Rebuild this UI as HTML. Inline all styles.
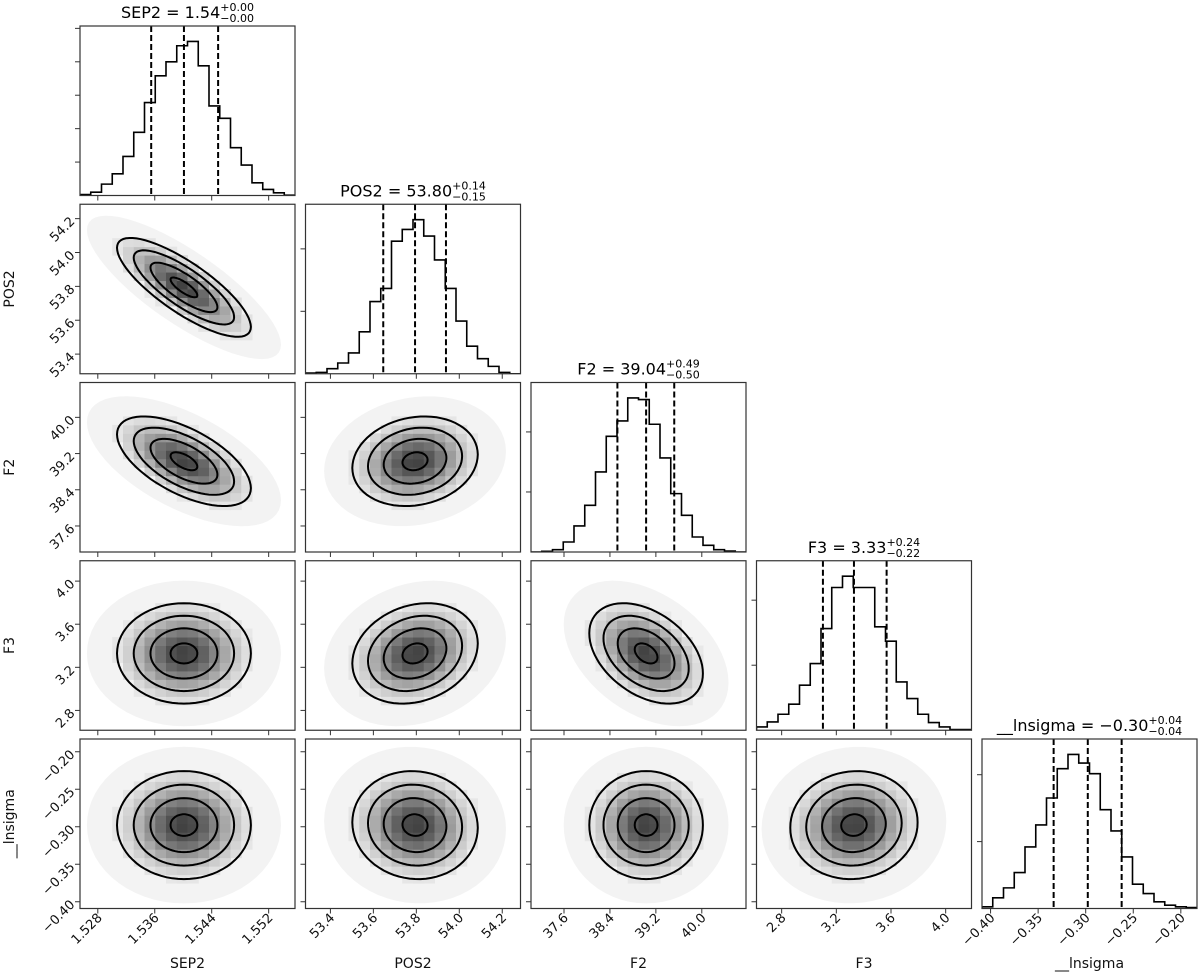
<!DOCTYPE html>
<html><head><meta charset="utf-8">
<style>
html,body{margin:0;padding:0;background:#fff;}
svg{display:block;font-family:"DejaVu Sans","Liberation Sans",sans-serif;}
</style></head>
<body>
<svg id="c" width="1200" height="976" viewBox="0 0 1200 976" xmlns="http://www.w3.org/2000/svg"></svg>
<script>
const names=["SEP2","POS2","F2","F3","__lnsigma"];
const lo=[1.5255,53.284,37.025,2.616,-0.409];
const hi=[1.5557,54.285,40.77,4.189,-0.183];
const means=[1.5401,53.794,39.03,3.329,-0.2978];
const sigmas=[0.0047,0.146,0.495,0.233,0.036];
const q16=[1.5355,53.646,38.53,3.102,-0.3337];
const q50=[1.5401,53.794,39.03,3.329,-0.2978];
const q84=[1.5449,53.938,39.52,3.568,-0.2622];
const titleVal=["1.54","53.80","39.04","3.33","\u22120.30"];
const titlePlus=["+0.00","+0.14","+0.49","+0.24","+0.04"];
const titleMinus=["\u22120.00","\u22120.15","\u22120.50","\u22120.22","\u22120.04"];
const histSEP2=[3,10,34,65,117,189,278,358,400,448,461,388,268,231,143,91,38,18,8,1];
const histPOS2=[2,4,15,32,62,125,215,254,395,430,459,410,339,254,157,82,45,22,4,0];
const histF2=[0,2,7,30,78,140,240,347,393,462,457,383,282,175,110,45,20,7,3,0];
const histF3=[10,25,48,78,135,200,305,428,462,428,428,310,267,145,95,48,23,10,2,2];
const histLn=[5,32,62,108,185,251,332,420,463,437,405,297,233,155,73,45,20,10,5,3];
const hists=[histSEP2,histPOS2,histF2,histF3,histLn];
const histTickStep=[100,186,180,195,201];
const ticksSEP2=[1.528,1.536,1.544,1.552];
const ticksPOS2=[53.4,53.6,53.8,54.0,54.2];
const ticksF2=[37.6,38.4,39.2,40.0];
const ticksF3=[2.8,3.2,3.6,4.0];
const ticksLn=[-0.40,-0.35,-0.30,-0.25,-0.20];
const tickVals=[ticksSEP2,ticksPOS2,ticksF2,ticksF3,ticksLn];
const tickLabels=[["1.528","1.536","1.544","1.552"],["53.4","53.6","53.8","54.0","54.2"],["37.6","38.4","39.2","40.0"],["2.8","3.2","3.6","4.0"],["\u22120.40","\u22120.35","\u22120.30","\u22120.25","\u22120.20"]];
const rho=[[1,-0.8,-0.6,0.0,0.0],[-0.8,1,0.15,0.2,-0.05],[-0.6,0.15,1,-0.4,0.0],[0.0,0.2,-0.4,1,0.05],[0.0,-0.05,0.0,0.05,1]];
const levels=[0.4,1,1.5,2];

const NS="http://www.w3.org/2000/svg";
const svg=document.getElementById('c');
const colX0=80, colW=215, colP=225.5, rowY0=26, rowH=169.5, rowP=178.25;
function el(t,a,p){const e=document.createElementNS(NS,t);for(const k in a)e.setAttribute(k,a[k]);(p||svg).appendChild(e);return e;}
function px(j,v){return colX0+j*colP+(v-lo[j])/(hi[j]-lo[j])*colW;}
function py(i,v){return rowY0+i*rowP+rowH-(v-lo[i])/(hi[i]-lo[i])*rowH;}
const defs=el('defs',{});
const N=names.length;
for(let i=0;i<N;i++){
  for(let j=0;j<=i;j++){
    const x0=colX0+j*colP, y0=rowY0+i*rowP;
    const g=el('g',{});
    
    
    const cid='cl'+i+'_'+j;
    const cp=el('clipPath',{id:cid},defs);
    el('rect',{x:x0,y:y0,width:colW,height:rowH},cp);
    const inner=el('g',{'clip-path':'url(#'+cid+')'},g);
    if(i===j){
      const h=hists[i]; const mx=Math.max(...h)*1.1;
      const yb=y0+rowH;
      let d='M'+x0+','+yb;
      for(let k=0;k<h.length;k++){
        const xa=px(j,lo[j]+k*(hi[j]-lo[j])/h.length), xb=px(j,lo[j]+(k+1)*(hi[j]-lo[j])/h.length);
        const yy=yb-h[k]/mx*rowH;
        d+=' L'+xa+','+yy+' L'+xb+','+yy;
      }
      d+=' L'+(x0+colW)+','+yb;
      const p=el('path',{d:d,fill:'none',stroke:'#000','stroke-width':1.6},inner);
      
      
      [q16[i],q50[i],q84[i]].forEach(q=>{
        const l=el('line',{x1:px(j,q),x2:px(j,q),y1:y0,y2:yb,stroke:'#000','stroke-width':2,'stroke-dasharray':'6,3'},inner);
        
        
      });
      for(let t=histTickStep[i];t<mx;t+=histTickStep[i]){
        const yy=yb-t/mx*rowH;
        el('line',{x1:x0-5,x2:x0,y1:yy,y2:yy,stroke:'#333','stroke-width':1},g);
      }
      const tg=el('g',{},g);
      
      
      const tm=el('text',{x:0,y:y0-8,'font-size':16,fill:'#000'},tg);
      tm.textContent=names[i]+' = '+titleVal[i];
      const tp=el('text',{x:0,y:y0-15,'font-size':11,fill:'#000'},tg);
      tp.textContent=titlePlus[i];
      const tn=el('text',{x:0,y:y0-4,'font-size':11,fill:'#000'},tg);
      tn.textContent=titleMinus[i];
      const wm=tm.getComputedTextLength(), ws=Math.max(tp.getComputedTextLength(),tn.getComputedTextLength());
      const sx0=x0+colW/2-(wm+ws)/2;
      tm.setAttribute('x',sx0); tp.setAttribute('x',sx0+wm); tn.setAttribute('x',sx0+wm);
    } else {
      const mxv=means[j], myv=means[i], sx=sigmas[j], sy=sigmas[i], r=rho[i][j], rr=Math.sqrt(1-r*r);
      function pt(a,b){return [px(j,mxv+sx*a), py(i,myv+sy*(r*a+rr*b))];}
      let dh='';
      for(let k=0;k<=60;k++){const t=k/60*2*Math.PI;const q=pt(2.9*Math.cos(t),2.9*Math.sin(t));dh+=(k?'L':'M')+q[0]+','+q[1];}
      el('path',{d:dh+'Z',fill:'#f3f3f3'},inner);
      const nb=20;
      for(let a=0;a<nb;a++)for(let b=0;b<nb;b++){
        const vx=lo[j]+(a+0.5)*(hi[j]-lo[j])/nb, vy=lo[i]+(b+0.5)*(hi[i]-lo[i])/nb;
        const u=(vx-mxv)/sx, v=(vy-myv)/sy;
        const m2=(u*u-2*r*u*v+v*v)/(1-r*r);
        if(m2>4.2)continue;
        const pdens=Math.exp(-m2/2);
        const gv=Math.round(255-190*pdens);
        el('rect',{x:px(j,lo[j]+a*(hi[j]-lo[j])/nb),y:py(i,lo[i]+(b+1)*(hi[i]-lo[i])/nb),width:colW/nb+0.5,height:rowH/nb+0.5,fill:'rgb('+gv+','+gv+','+gv+')'},inner);
      }
      levels.forEach(L=>{
        let d='';
        for(let k=0;k<=72;k++){const t=k/72*2*Math.PI;const q=pt(L*Math.cos(t),L*Math.sin(t));d+=(k?'L':'M')+q[0].toFixed(1)+','+q[1].toFixed(1);}
        const c=el('path',{d:d+'Z',fill:'none',stroke:'#000','stroke-width':2},inner);
        
        
      });
      if(j===0){
        tickVals[i].forEach((tv,k)=>{
          const yy=py(i,tv);
          el('line',{x1:x0-5,x2:x0,y1:yy,y2:yy,stroke:'#333','stroke-width':1},g);
          const tx=el('text',{x:x0-8,y:yy+5,'text-anchor':'end','font-size':13,fill:'#111',transform:'rotate(-45 '+(x0-8)+' '+yy+')'},g);
          tx.textContent=tickLabels[i][k];
        });
      } else {
        tickVals[i].forEach(tv=>{const yy=py(i,tv);el('line',{x1:x0-5,x2:x0,y1:yy,y2:yy,stroke:'#333','stroke-width':1},g);});
      }
    }
    tickVals[j].forEach((tv,k)=>{
      const xx=px(j,tv), yb=y0+rowH;
      el('line',{x1:xx,x2:xx,y1:yb,y2:yb+5,stroke:'#333','stroke-width':1},g);
      if(i===N-1){
        const tx=el('text',{x:xx+5,y:yb+10,'text-anchor':'end','font-size':13,fill:'#111',transform:'rotate(-45 '+(xx+5)+' '+(yb+10)+')'},g);
        tx.textContent=tickLabels[j][k];
      }
    });
    el('rect',{x:x0,y:y0,width:colW,height:rowH,fill:'none',stroke:'#333','stroke-width':1.2},g);
  }
}
for(let j=0;j<N;j++){
  const t=el('text',{x:colX0+j*colP+colW/2,y:968,'text-anchor':'middle','font-size':14,fill:'#111'});
  
  
  t.textContent=names[j];
}
for(let i=1;i<N;i++){
  const yc=rowY0+i*rowP+rowH/2;
  const t=el('text',{x:14,y:yc,'text-anchor':'middle','font-size':14,fill:'#111',transform:'rotate(-90 14 '+yc+')'});
  
  
  t.textContent=names[i];
}
</script>
</body></html>
